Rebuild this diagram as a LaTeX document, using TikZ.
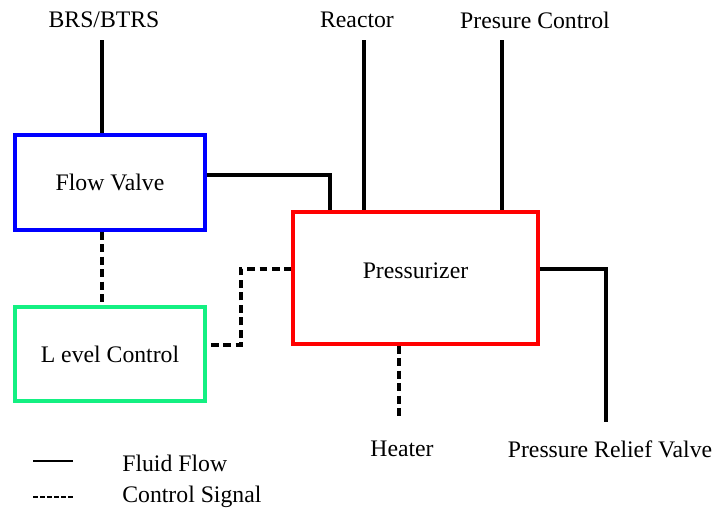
\documentclass[tikz,border=0pt]{standalone}
\usepackage{fontspec}
\setmainfont{LiberationSerif}[Extension=.ttf, UprightFont=*-Regular,
	BoldFont=*-Bold, ItalicFont=*-Italic, BoldItalicFont=*-BoldItalic]
\definecolor{verdino}{RGB}{20,240,130}
\begin{document}
\begin{tikzpicture}[
			blocco/.style={draw, line width=2pt, inner sep=0pt,
				minimum width=3.8cm, minimum height=1.9cm,
				font=\rmfamily\fontsize{13.5}{16}\selectfont},
			flusso/.style={line width=2pt, line join=miter, black},
			segnale/.style={line width=2pt, black,
				dash pattern=on 4.5pt off 2.6pt},
			etichetta/.style={font=\rmfamily\fontsize{13.5}{16}\selectfont, inner sep=0pt},
			]
			\useasboundingbox (0,0) rectangle (14.42,-10.24);
			
			\node[blocco, draw=blue] (flow) at (2.2,-3.65) {Flow Valve};
			\node[blocco, draw=verdino, minimum height=1.88cm] (level) at (2.2,-7.08)
			{L evel Control};
			\node[blocco, draw=red, minimum width=4.9cm, minimum height=2.64cm,
			text depth=0.3cm] (press) at (8.31,-5.56) {Pressurizer};
			
			\node[etichetta] (brs) at (2.08,-0.4) {BRS/BTRS};
			\node[etichetta] (reactor) at (7.14,-0.4) {Reactor};
			\node[etichetta] (prescontrol) at (10.7,-0.4) {Presure Control};
			\node[etichetta] (heater) at (8.04,-8.98) {Heater};
			\node[etichetta] (relief) at (12.2,-8.98) {Pressure Relief Valve};
			
			\coordinate (brstop) at (2.04,-0.8);
			\coordinate (reactortop) at (7.28,-0.8);
			\coordinate (prestop) at (10.04,-0.8);
			\coordinate (heaterbot) at (7.98,-8.4);
			\coordinate (reliefbot) at (12.12,-8.44);
			
			\draw[flusso](brstop)--(brstop |- flow.north);
			\draw[flusso](reactortop)--(reactortop |- press.north);
			\draw[flusso](prestop)--(prestop |- press.north);
			\draw[flusso]([yshift=0.15cm]flow.east)-|([xshift=-1.71cm]press.north);
			\draw[flusso]([yshift=0.18cm]press.east)-|(reliefbot);
			
			\draw[segnale](brstop |- flow.south)--(brstop |- level.north);
			\draw[segnale]([xshift=0.08cm, yshift=0.18cm]level.east)
			-|(4.82,-5.38)--([yshift=0.18cm]press.west);
			\draw[segnale](heaterbot |- press.south)--(heaterbot);
			
			% legenda
			\coordinate (l1a) at (0.66,-9.22); \coordinate (l1b) at (1.46,-9.22);
			\coordinate (l2a) at (0.66,-9.94); \coordinate (l2b) at (1.46,-9.94);
			\draw[flusso, line width=1.4pt](l1a)--(l1b);
			\draw[segnale, line width=1.4pt, dash pattern=on 2.6pt off 1.4pt](l2a)--(l2b);
			\node[etichetta, anchor=west] (fluid) at (2.44,-9.26) {Fluid Flow};
			\node[etichetta, anchor=west] (control) at (2.44,-9.94) {Control Signal};
		\end{tikzpicture}
\end{document}
